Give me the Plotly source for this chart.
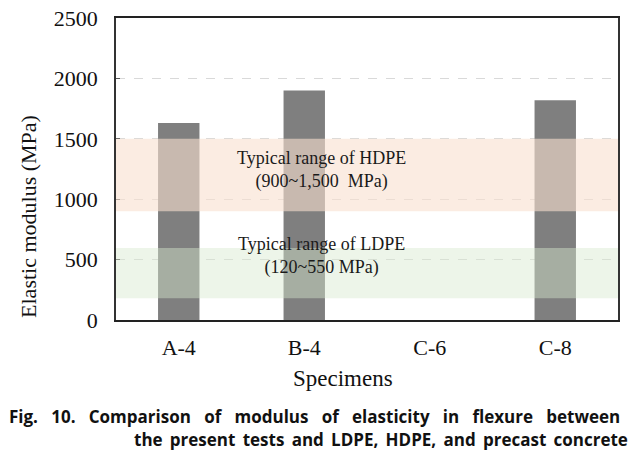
import plotly.graph_objects as go

categories = ["A-4", "B-4", "C-6", "C-8"]
modulus = [1630, 1900, None, 1820]
hdpe_range = [900, 1500]
ldpe_drawn = [180, 595]
y_ticks = [0, 500, 1000, 1500, 2000, 2500]
caption_1 = "Fig. 10. Comparison of modulus of elasticity in flexure between"
caption_2 = "the present tests and LDPE, HDPE, and precast concrete"

fig = go.Figure()
fig.add_trace(go.Bar(x=categories, y=modulus, marker=dict(color="#7f7f7f", line=dict(width=0)),
                     showlegend=False, hoverinfo="x+y"))

serif = "Liberation Serif"

# range bands drawn above bars with transparency
fig.add_shape(type="rect", xref="paper", x0=0, x1=1, yref="y", y0=hdpe_range[0], y1=hdpe_range[1],
              fillcolor="rgba(248,223,207,0.6)", line=dict(width=0), layer="above")
fig.add_shape(type="rect", xref="paper", x0=0, x1=1, yref="y", y0=ldpe_drawn[0], y1=ldpe_drawn[1],
              fillcolor="rgba(215,233,206,0.45)", line=dict(width=0), layer="above")

fig.add_annotation(xref="paper", x=0.41, y=1242, text="Typical range of HDPE<br>(900~1,500  MPa)",
                   showarrow=False, font=dict(family=serif, size=18, color="#1a1a1a"), align="center")
fig.add_annotation(xref="paper", x=0.41, y=530, text="Typical range of LDPE<br>(120~550 MPa)",
                   showarrow=False, font=dict(family=serif, size=18, color="#1a1a1a"), align="center")

# axis titles (placed as in the reference)
fig.add_annotation(xref="paper", yref="paper", x=0.452, y=0, yshift=-58, yanchor="middle",
                   showarrow=False, text="Specimens", font=dict(family=serif, size=23, color="#111111"))
fig.add_annotation(xref="paper", yref="paper", x=0, xshift=-87, y=0.381, yshift=-12,
                   xanchor="center", yanchor="middle", textangle=-90, showarrow=False,
                   text="Elastic modulus (MPa)", font=dict(family=serif, size=22, color="#111111"))

cap_font = dict(family="Open Sans", size=17, color="#111111")
fig.add_annotation(xref="paper", yref="paper", x=0, y=0, xshift=-109, yshift=-96, xanchor="left",
                   yanchor="middle", showarrow=False, font=cap_font,
                   text="<b>" + caption_1.replace(" ", "\u00a0\u00a0\u00a0") + "</b>")
fig.add_annotation(xref="paper", yref="paper", x=0, y=0, xshift=16, yshift=-119, xanchor="left",
                   yanchor="middle", showarrow=False, font=cap_font,
                   text="<b>" + caption_2.replace(" ", "\u00a0\u2006") + "</b>")

fig.update_layout(
    width=636, height=450,
    margin=dict(l=116, r=18, t=18, b=130, autoexpand=False),
    paper_bgcolor="white", plot_bgcolor="white",
    bargap=0.67,
    font=dict(family=serif, size=22, color="#111111"),
)
fig.update_xaxes(
    automargin=False,
    showline=True, linecolor="#222222", linewidth=2, mirror=True,
    ticks="", tickfont=dict(family=serif, size=22), ticklabelstandoff=7, showgrid=False)
fig.update_yaxes(
    automargin=False,
    range=[0, 2500], tickvals=y_ticks, ticktext=[str(v) for v in y_ticks],
    showline=True, linecolor="#333333", linewidth=1.5, mirror=True,
    ticks="inside", ticklen=4, tickcolor="#555555",
    tickfont=dict(family=serif, size=22), ticklabelstandoff=12,
    showgrid=True, gridcolor="#d9d9d9", griddash="dash", gridwidth=1,
    zeroline=False)

fig.write_html("out.html", config={"displayModeBar": False},
               post_script="document.body.style.margin='0px';")
